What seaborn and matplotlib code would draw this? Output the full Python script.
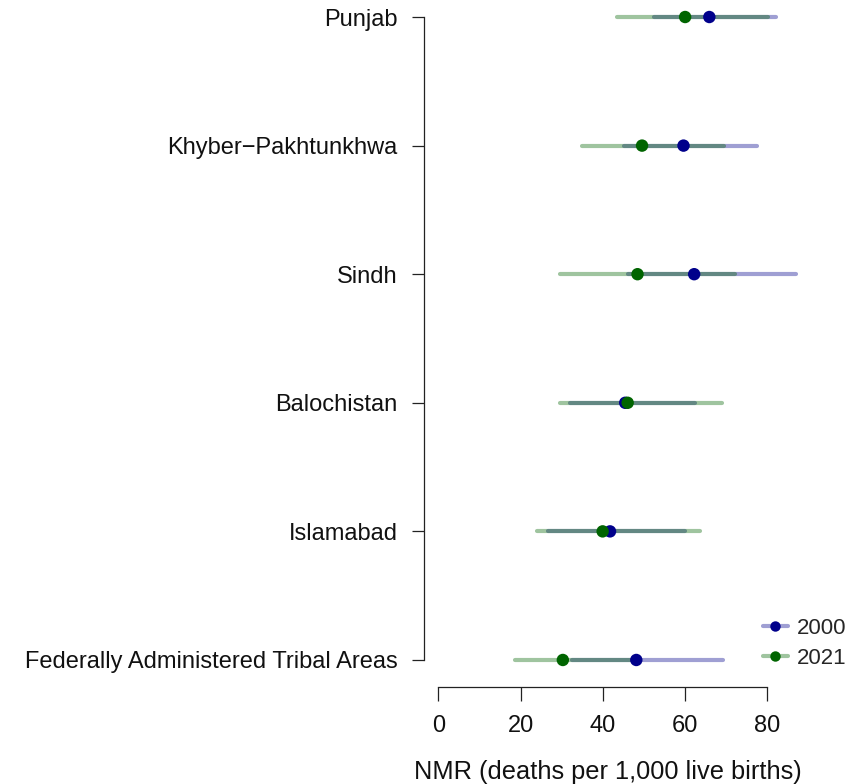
import numpy as np
import pandas as pd
import seaborn as sns
import matplotlib.pyplot as plt
from matplotlib.lines import Line2D
from matplotlib.legend_handler import HandlerTuple

regions = ["Punjab", "Khyber\u2212Pakhtunkhwa", "Sindh", "Balochistan",
           "Islamabad", "Federally Administered Tribal Areas"]

nmr_2000 = [66.0, 59.7, 62.3, 45.5, 41.8, 48.2]
lo_2000 = [52.6, 45.1, 46.3, 32.1, 26.8, 32.5]
hi_2000 = [82.3, 77.6, 87.0, 62.6, 60.1, 69.3]

nmr_2021 = [60.1, 49.6, 48.5, 46.1, 40.0, 30.3]
lo_2021 = [43.5, 34.9, 29.6, 29.6, 24.0, 18.7]
hi_2021 = [80.4, 69.5, 72.3, 69.1, 63.8, 47.1]

x_ticks = [0, 20, 40, 60, 80]

sns.set_style("ticks")
plt.rcParams['font.family'] = ['Liberation Sans', 'DejaVu Sans']

""" Stack both years into one long table """
ypos = np.arange(len(regions))[::-1]
df = pd.concat([
    pd.DataFrame({"region": regions, "y": ypos, "nmr": nmr_2000,
                  "lo": lo_2000, "hi": hi_2000, "year": "2000"}),
    pd.DataFrame({"region": regions, "y": ypos, "nmr": nmr_2021,
                  "lo": lo_2021, "hi": hi_2021, "year": "2021"}),
])

colors = {"2000": "#00008B", "2021": "#006400"}
alpha = 0.375

fig = plt.figure(figsize=(8.64, 7.84), dpi=100)
ax = fig.add_axes([0.5075, 0.1582, 0.475, 0.8201])

""" Uncertainty intervals """
for year in ["2000", "2021"]:
    d = df[df["year"] == year]
    ax.hlines(d["y"], d["lo"], d["hi"], color=colors[year], alpha=alpha,
              linewidth=3.0, capstyle="round", clip_on=False)

""" Point estimates """
sns.scatterplot(data=df, x="nmr", y="y", hue="year", palette=colors,
                s=80, edgecolor="none", linewidth=0, legend=False,
                clip_on=False, zorder=3, ax=ax)

ax.set_xlim(0, 100)
ax.set_ylim(0, 5)
ax.set_yticks(ypos)
ax.set_yticklabels(regions)
ax.set_xticks(x_ticks)
ax.set_xlabel("NMR (deaths per 1,000 live births)", fontsize=18.3,
              color="#111111")
ax.xaxis.set_label_coords(0.412, -0.156)
ax.set_ylabel("")

sns.despine(ax=ax)
ax.spines["left"].set_position(("outward", 10.4))
ax.spines["bottom"].set_position(("outward", 19.4))
ax.spines["left"].set_bounds(0, 5)
ax.spines["bottom"].set_bounds(0, 80)
for s in ["left", "bottom"]:
    ax.spines[s].set_linewidth(0.9)
    ax.spines[s].set_color("#222222")

ax.tick_params(axis="y", length=9, width=0.9, pad=10, labelsize=17,
               colors="#222222", labelcolor="#111111")
ax.tick_params(axis="x", length=10, width=0.9, pad=10, labelsize=17,
               colors="#222222", labelcolor="#111111")

""" Legend: translucent line with a solid point on top """
handles = []
for year in ["2000", "2021"]:
    ln = Line2D([0], [0], color=colors[year], alpha=alpha, linewidth=3.0,
                solid_capstyle="round")
    pt = Line2D([0], [0], color=colors[year], marker="o", markersize=7.5,
                markeredgewidth=0, linestyle="none")
    handles.append((ln, pt))
ax.legend(handles, ["2000", "2021"], loc="lower right",
          bbox_to_anchor=(1.042, -0.045), frameon=False, fontsize=16,
          handlelength=1.1, handletextpad=0.4, labelspacing=0.4,
          handler_map={tuple: HandlerTuple(ndivide=1, pad=0)})

fig.savefig("out.png", dpi=100)
